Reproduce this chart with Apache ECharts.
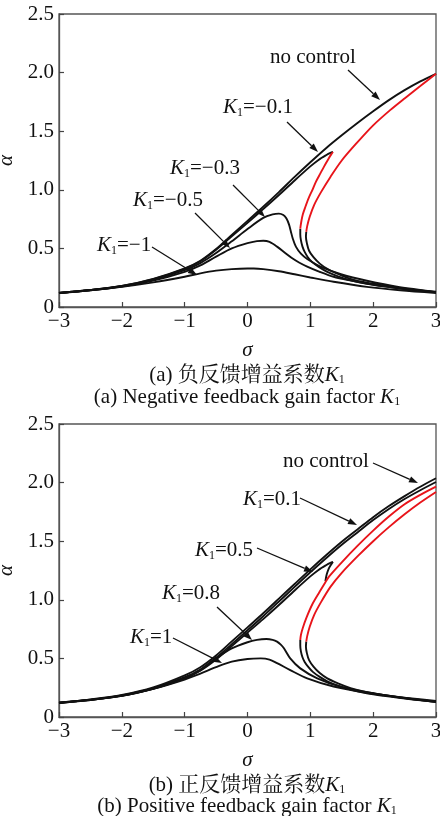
<!DOCTYPE html>
<html><head><meta charset="utf-8">
<script src="https://cdn.jsdelivr.net/npm/echarts@6/dist/echarts.min.js"></script>
<style>html,body{margin:0;padding:0;background:#fff;}#c{width:440px;height:816px;}</style>
</head><body><div id="c"></div>
<script>
// ---------- axis ticks ----------
const sigmaTicks = [-3, -2, -1, 0, 1, 2, 3];
const alphaTicks = [0, 0.5, 1.0, 1.5, 2.0, 2.5];

// ---------- panel (a): negative feedback ----------
const a_noCtrl_up = [[-3,0.12],[-2.5,0.145],[-2,0.18],[-1.5,0.24],[-1,0.33],[-0.75,0.395],[-0.5,0.495],[-0.25,0.615],[0,0.735],[0.25,0.855],[0.5,0.98],[0.75,1.11],[1,1.235],[1.25,1.355],[1.5,1.465],[1.75,1.57],[2,1.67],[2.25,1.765],[2.5,1.85],[2.75,1.925],[3,1.99]];
const a_noCtrl_unst = [[3,1.99],[2.75,1.885],[2.5,1.78],[2.27,1.68],[2,1.55],[1.74,1.40],[1.5,1.25],[1.32,1.11],[1.17,0.98],[1.06,0.87],[0.99,0.77],[0.95,0.69],[0.935,0.64]];
const a_noCtrl_low = [[0.935,0.64],[0.93,0.60],[0.945,0.545],[0.98,0.48],[1.05,0.425],[1.15,0.37],[1.27,0.326],[1.45,0.28],[1.64,0.24],[1.9,0.207],[2.17,0.184],[2.4,0.165],[2.64,0.147],[3,0.127]];
const a_k01_up = [[-3,0.12],[-2.5,0.145],[-2,0.179],[-1.5,0.238],[-1,0.326],[-0.75,0.39],[-0.5,0.488],[-0.25,0.603],[0,0.718],[0.25,0.835],[0.5,0.955],[0.75,1.08],[1,1.2],[1.13,1.255],[1.25,1.295],[1.32,1.315],[1.36,1.323]];
const a_k01_unst = [[1.36,1.323],[1.33,1.30],[1.29,1.265],[1.22,1.2],[1.16,1.14],[1.09,1.07],[1.03,0.996],[0.97,0.925],[0.92,0.853],[0.88,0.79],[0.86,0.74],[0.845,0.69],[0.84,0.668]];
const a_k01_low = [[0.84,0.668],[0.84,0.62],[0.85,0.57],[0.875,0.515],[0.91,0.47],[0.96,0.425],[1.03,0.383],[1.14,0.34],[1.27,0.3],[1.45,0.26],[1.64,0.228],[1.9,0.198],[2.17,0.176],[2.6,0.148],[3,0.126]];
const a_k03 = [[-3,0.12],[-2.5,0.144],[-2,0.177],[-1.5,0.232],[-1,0.315],[-0.75,0.375],[-0.5,0.46],[-0.25,0.56],[0,0.665],[0.25,0.76],[0.4,0.79],[0.5,0.797],[0.57,0.785],[0.62,0.755],[0.66,0.705],[0.69,0.645],[0.72,0.585],[0.77,0.515],[0.85,0.455],[0.95,0.41],[1.2,0.335],[1.5,0.277],[1.9,0.224],[2.4,0.172],[3,0.13]];
const a_k05 = [[-3,0.12],[-2.5,0.143],[-2,0.175],[-1.5,0.225],[-1,0.30],[-0.75,0.355],[-0.5,0.43],[-0.25,0.5],[0,0.545],[0.15,0.562],[0.25,0.565],[0.35,0.555],[0.47,0.515],[0.6,0.46],[0.7,0.42],[0.82,0.38],[0.95,0.345],[1.15,0.3],[1.37,0.258],[1.65,0.225],[1.9,0.2],[2.43,0.157],[3,0.125]];
const a_k1 = [[-3,0.12],[-2.5,0.143],[-2,0.172],[-1.5,0.21],[-1,0.258],[-0.75,0.287],[-0.5,0.31],[-0.25,0.323],[0,0.328],[0.1,0.328],[0.25,0.323],[0.5,0.305],[0.75,0.279],[1,0.252],[1.37,0.215],[1.9,0.172],[2.43,0.143],[3,0.12]];

// ---------- panel (b): positive feedback ----------
const b_noCtrl_up = [[-3,0.12],[-2.5,0.147],[-2,0.183],[-1.5,0.245],[-1,0.34],[-0.75,0.405],[-0.5,0.505],[-0.25,0.622],[0,0.74],[0.25,0.86],[0.5,0.985],[0.75,1.11],[1,1.235],[1.25,1.355],[1.5,1.47],[1.75,1.575],[2,1.68],[2.25,1.775],[2.5,1.86],[2.75,1.935],[3,2.005]];
const b_noCtrl_unst = [[3,1.965],[2.75,1.895],[2.5,1.815],[2.25,1.71],[2,1.59],[1.75,1.46],[1.5,1.32],[1.3,1.2],[1.24,1.15],[1.15,1.07],[1.03,0.96],[0.94,0.85],[0.88,0.76],[0.85,0.70],[0.84,0.657]];
const b_noCtrl_low = [[0.84,0.657],[0.84,0.61],[0.85,0.56],[0.875,0.51],[0.91,0.47],[0.97,0.425],[1.04,0.385],[1.15,0.342],[1.27,0.305],[1.45,0.265],[1.64,0.233],[1.9,0.202],[2.17,0.18],[2.6,0.15],[3,0.128]];
const b_k01_up = [[-3,0.122],[-2.5,0.15],[-2,0.188],[-1.5,0.252],[-1,0.355],[-0.75,0.425],[-0.5,0.525],[-0.25,0.645],[0,0.765],[0.25,0.885],[0.5,1.01],[0.75,1.135],[1,1.26],[1.25,1.38],[1.5,1.495],[1.75,1.6],[2,1.705],[2.25,1.8],[2.5,1.885],[2.75,1.965],[3,2.037]];
const b_k01_unst = [[3,1.92],[2.75,1.83],[2.5,1.73],[2.25,1.62],[2,1.5],[1.75,1.37],[1.5,1.23],[1.32,1.11],[1.17,0.98],[1.06,0.87],[0.99,0.77],[0.95,0.69],[0.935,0.643]];
const b_k01_low = [[0.935,0.643],[0.93,0.6],[0.945,0.545],[0.98,0.485],[1.05,0.43],[1.15,0.375],[1.27,0.33],[1.45,0.285],[1.64,0.247],[1.9,0.212],[2.17,0.188],[2.64,0.152],[3,0.13]];
const b_k05_up = [[-3,0.12],[-2.5,0.145],[-2,0.18],[-1.5,0.24],[-1,0.33],[-0.75,0.395],[-0.5,0.49],[-0.25,0.605],[0,0.72],[0.25,0.835],[0.5,0.955],[0.75,1.08],[1,1.2],[1.13,1.255],[1.25,1.295],[1.32,1.315],[1.36,1.323]];
const b_k05_ret = [[1.36,1.323],[1.33,1.3],[1.29,1.262],[1.26,1.215],[1.24,1.16]];
const b_k08 = [[-3,0.12],[-2.5,0.146],[-2,0.182],[-1.5,0.243],[-1,0.33],[-0.75,0.40],[-0.5,0.5],[-0.25,0.585],[0,0.638],[0.15,0.658],[0.3,0.665],[0.4,0.658],[0.47,0.643],[0.53,0.617],[0.58,0.586],[0.68,0.5],[0.84,0.415],[1.11,0.33],[1.48,0.259],[2.01,0.202],[2.54,0.16],[3,0.13]];
const b_k1 = [[-3,0.125],[-2.5,0.145],[-2,0.18],[-1.5,0.24],[-1,0.32],[-0.75,0.37],[-0.5,0.425],[-0.25,0.472],[0,0.495],[0.21,0.5],[0.35,0.49],[0.47,0.46],[0.68,0.4],[0.95,0.33],[1.37,0.26],[1.9,0.207],[2.43,0.168],[3,0.138]];

// ---------- labels ----------
const labelsA = ['no control', 'K1=\u22120.1', 'K1=\u22120.3', 'K1=\u22120.5', 'K1=\u22121'];
const labelsB = ['no control', 'K1=0.1', 'K1=0.5', 'K1=0.8', 'K1=1'];
const captionA_zh = '(a) 负反馈增益系数';
const captionA_en = '(a) Negative feedback gain factor ';
const captionB_zh = '(b) 正反馈增益系数';
const captionB_en = '(b) Positive feedback gain factor ';

// ================= build =================
const BLACK = '#111', RED = '#e8141a';
const SERIF = '"Liberation Serif","Times New Roman",serif';
const CJK = '"Liberation Serif","Noto Serif CJK SC","Noto Sans CJK SC",sans-serif';
const FS = 21;

const grids = [
  {left:59, top:14, width:377, height:293},
  {left:59, top:424, width:377, height:293}
].map(g => Object.assign(g, {show:true, borderColor:'#555', borderWidth:1.3, backgroundColor:'transparent', containLabel:false, outerBoundsMode:'none'}));

function xAxisCfg(gi){
  return {type:'value', gridIndex:gi, min:sigmaTicks[0], max:sigmaTicks[sigmaTicks.length-1], interval:1,
    name:'σ', nameLocation:'middle', nameGap:33,
    nameTextStyle:{fontFamily:SERIF, fontStyle:'italic', fontSize:FS, color:BLACK},
    axisLine:{show:true, onZero:false, lineStyle:{color:'#555', width:1.3}},
    axisTick:{show:true, inside:true, length:5, lineStyle:{color:'#444', width:1.2}},
    axisLabel:{fontFamily:SERIF, fontSize:FS, color:BLACK, margin:4,
      formatter: v => v < 0 ? '\u2212' + Math.abs(v) : String(v)},
    splitLine:{show:false}};
}
function yAxisCfg(gi){
  return {type:'value', gridIndex:gi, min:alphaTicks[0], max:alphaTicks[alphaTicks.length-1], interval:0.5,
    name:'α', nameLocation:'middle', nameGap:34, nameRotate:90,
    nameTextStyle:{fontFamily:SERIF, fontStyle:'italic', fontSize:FS, color:BLACK},
    axisLine:{show:true, onZero:false, lineStyle:{color:'#555', width:1.3}},
    axisTick:{show:true, inside:true, length:5, lineStyle:{color:'#444', width:1.2}},
    axisLabel:{fontFamily:SERIF, fontSize:FS, color:BLACK, margin:5,
      formatter: v => v === 0 ? '0' : v.toFixed(1)},
    splitLine:{show:false}};
}

function seg(data, color, idx){
  return {type:'line', xAxisIndex:idx, yAxisIndex:idx, data:data, showSymbol:false, symbol:'none',
    smooth:0.3, silent:true, clip:true, z: color === RED ? 4 : 3,
    lineStyle:{color:color, width:1.9}};
}

const series = [
  seg(a_noCtrl_up, BLACK, 0), seg(a_noCtrl_unst, RED, 0), seg(a_noCtrl_low, BLACK, 0),
  seg(a_k01_up, BLACK, 0), seg(a_k01_unst, RED, 0), seg(a_k01_low, BLACK, 0),
  seg(a_k03, BLACK, 0), seg(a_k05, BLACK, 0), seg(a_k1, BLACK, 0),
  seg(b_noCtrl_up, BLACK, 1), seg(b_noCtrl_unst, RED, 1), seg(b_noCtrl_low, BLACK, 1),
  seg(b_k01_up, BLACK, 1), seg(b_k01_unst, RED, 1), seg(b_k01_low, BLACK, 1),
  seg(b_k05_up, BLACK, 1), seg(b_k05_ret, BLACK, 1),
  seg(b_k08, BLACK, 1), seg(b_k1, BLACK, 1)
];

// rich label text
const rich = {
  k:{fontFamily:SERIF, fontStyle:'italic', fontSize:FS, fill:BLACK, color:BLACK},
  s:{fontFamily:SERIF, fontSize:12, fill:BLACK, color:BLACK, padding:[11,0,0,0]},
  n:{fontFamily:SERIF, fontSize:FS, fill:BLACK, color:BLACK}
};
function richLabel(str){
  if (str.indexOf('K1') === 0) return '{k|K}{s|1}{n|' + str.slice(2) + '}';
  return '{n|' + str + '}';
}
function textEl(str, x, y, align){
  return {type:'text', x:x, y:y, silent:true, z:10,
    style:{text:str, rich:rich, fill:BLACK, fontFamily:SERIF, fontSize:FS,
      align:align||'left', textAlign:align||'left', verticalAlign:'top', textVerticalAlign:'top'}};
}
function arrowEls(x1, y1, x2, y2){
  const dx = x2-x1, dy = y2-y1, L = Math.sqrt(dx*dx+dy*dy), ux = dx/L, uy = dy/L;
  const hl = 9, hw = 3.2;
  const bx = x2 - ux*hl, by = y2 - uy*hl;
  return [
    {type:'line', silent:true, z:10, shape:{x1:x1, y1:y1, x2:bx, y2:by}, style:{stroke:BLACK, lineWidth:1.3}},
    {type:'polygon', silent:true, z:10, shape:{points:[[x2,y2],[bx - uy*hw, by + ux*hw],[bx + uy*hw, by - ux*hw]]}, style:{fill:BLACK}}
  ];
}

const posA = [[270,47],[223,96],[170,157],[133,189],[97,234]];
const arrA = [[348,70,380,100],[287,122,318,152],[233,185,265,217],[195,213,230,248],[152,247,197,275]];
const posB = [[283,451],[243,488],[195,539],[162,582],[130,626]];
const arrB = [[373,463,418,483],[300,498,357,525],[257,548,313,572],[217,607,252,640],[173,638,222,663]];

let graphic = [];
labelsA.forEach((t,i) => { graphic.push(textEl(richLabel(t), posA[i][0], posA[i][1])); graphic = graphic.concat(arrowEls.apply(null, arrA[i])); });
labelsB.forEach((t,i) => { graphic.push(textEl(richLabel(t), posB[i][0], posB[i][1])); graphic = graphic.concat(arrowEls.apply(null, arrB[i])); });

const capRich = {
  c:{fontFamily:CJK, fontSize:FS, fill:BLACK, color:BLACK},
  k:{fontFamily:SERIF, fontStyle:'italic', fontSize:FS, fill:BLACK, color:BLACK},
  s:{fontFamily:SERIF, fontSize:12, fill:BLACK, color:BLACK, padding:[10,0,0,0]}
};
function capEl(str, cy){
  return {type:'text', x:247, y:cy, silent:true, z:10,
    style:{text:'{c|' + str + '}{k|K}{s|1}', rich:capRich, fill:BLACK, fontSize:FS,
      align:'center', textAlign:'center', verticalAlign:'middle', textVerticalAlign:'middle'}};
}
graphic.push(capEl(captionA_zh, 375), capEl(captionA_en, 397), capEl(captionB_zh, 785), capEl(captionB_en, 806));

const chart = echarts.init(document.getElementById('c'), null, {renderer:'canvas'});
chart.setOption({
  animation:false,
  backgroundColor:'#fff',
  grid: grids,
  xAxis:[xAxisCfg(0), xAxisCfg(1)],
  yAxis:[yAxisCfg(0), yAxisCfg(1)],
  series: series,
  graphic: graphic
});
</script></body></html>
